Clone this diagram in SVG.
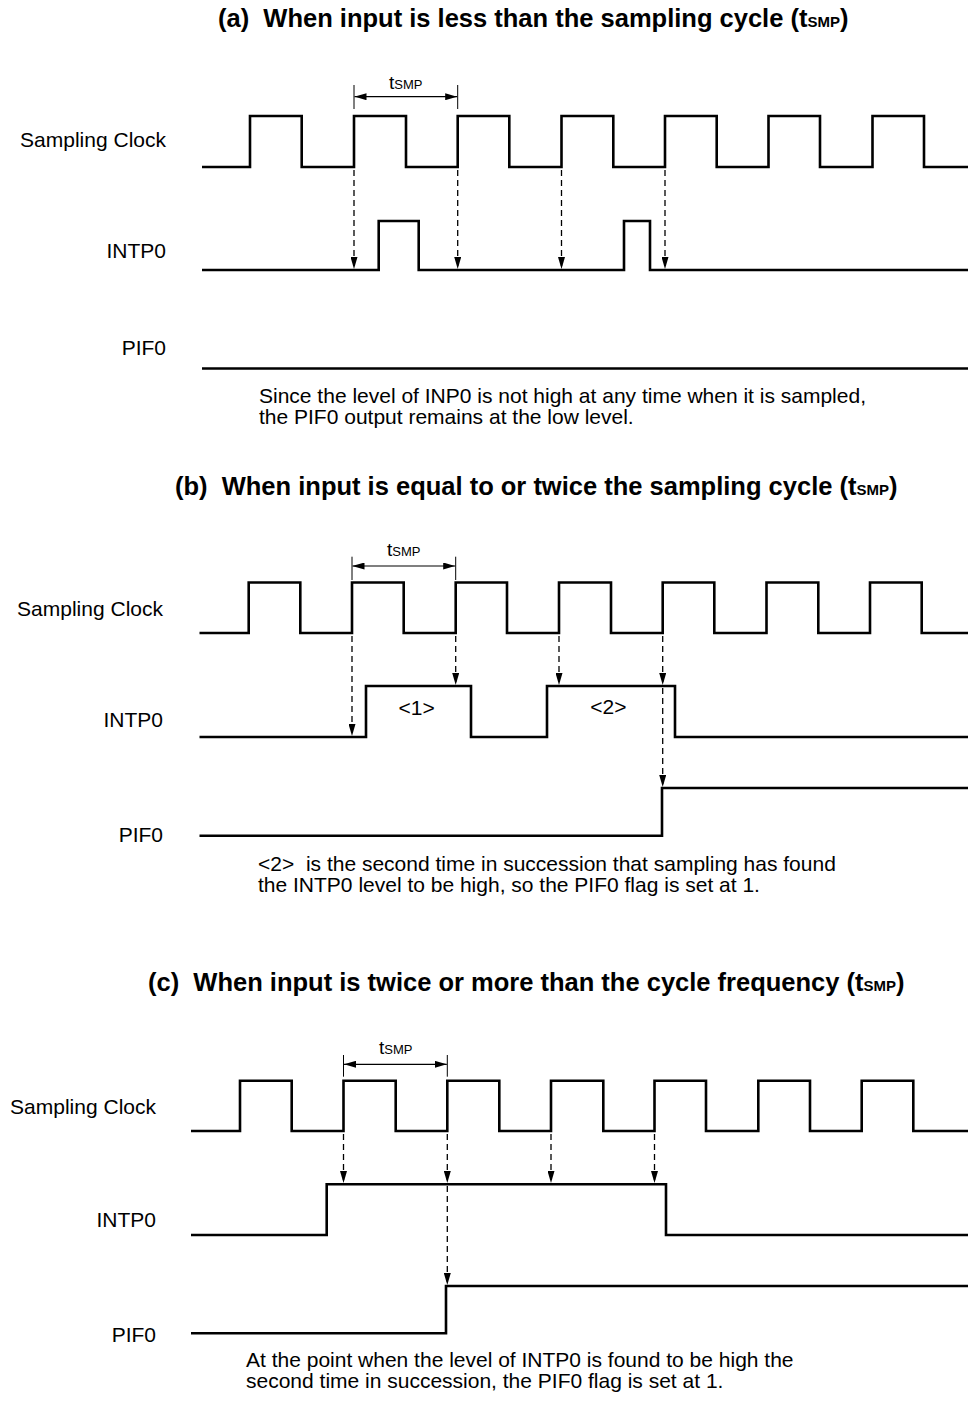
<svg xmlns="http://www.w3.org/2000/svg" width="968" height="1402" viewBox="0 0 968 1402">
<style>
text{white-space:pre}
.wave{fill:none;stroke:#000;stroke-width:2.6;stroke-linejoin:miter;stroke-linecap:butt}
.dash{fill:none;stroke:#000;stroke-width:1.3;stroke-dasharray:6 4}
.dim{fill:none;stroke:#000;stroke-width:1.2}
.tick{fill:none;stroke:#000;stroke-width:1}
.lbl{font-family:"Liberation Sans",Arial,sans-serif;font-size:21px;fill:#000}
.title{font-family:"Liberation Sans",Arial,sans-serif;font-size:25.5px;font-weight:bold;fill:#000}
.tt{font-family:"Liberation Sans",Arial,sans-serif;font-size:19px;fill:#000}
.sub{font-size:13px}
.tsub{font-size:15px}
</style>
<defs>
<marker id="ah" viewBox="0 0 12 7" refX="12" refY="3.5" markerWidth="12" markerHeight="7" markerUnits="userSpaceOnUse" orient="auto">
<path d="M0,0 L12,3.5 L0,7 z" fill="#000"/>
</marker>
<marker id="dh" viewBox="0 0 12 7" refX="12" refY="3.5" markerWidth="12" markerHeight="7" markerUnits="userSpaceOnUse" orient="auto-start-reverse">
<path d="M0,0 L12,3.5 L0,7 z" fill="#000"/>
</marker>
</defs>

<!-- Section (a) -->
<g id="section-a">
<text class="title" x="218" y="27">(a)  When input is less than the sampling cycle (t<tspan class="tsub">SMP</tspan>)</text>
<g id="a-clock">
<text class="lbl" x="166" y="147" text-anchor="end">Sampling Clock</text>
<path class="wave" d="M202,167 H250 V116 H301.7 V167 H354 V116 H406 V167 H457.7 V116 H509.3 V167 H561.5 V116 H613.3 V167 H665 V116 H716.7 V167 H768.5 V116 H820 V167 H872.5 V116 H924 V167 H968"/>
</g>
<g id="a-intp0">
<text class="lbl" x="166" y="258" text-anchor="end">INTP0</text>
<path class="wave" d="M202,270 H378.7 V221 H418.7 V270 H624 V221 H650 V270 H968"/>
</g>
<g id="a-pif0">
<text class="lbl" x="166" y="355" text-anchor="end">PIF0</text>
<path class="wave" d="M202,368.5 H968"/>
</g>
<g id="a-tsmp">
<line class="tick" x1="354" y1="85" x2="354" y2="109"/>
<line class="tick" x1="457.7" y1="85" x2="457.7" y2="109"/>
<line class="dim" x1="354.5" y1="96.7" x2="457.2" y2="96.7" marker-start="url(#dh)" marker-end="url(#dh)"/>
<text class="tt" x="389" y="89">t<tspan class="sub">SMP</tspan></text>
</g>
<g id="a-note">
<text class="lbl" x="259" y="403">Since the level of INP0 is not high at any time when it is sampled,</text>
<text class="lbl" x="259" y="424">the PIF0 output remains at the low level.</text>
</g>
</g>

<!-- Section (b) -->
<g id="section-b">
<text class="title" x="175" y="495">(b)  When input is equal to or twice the sampling cycle (t<tspan class="tsub">SMP</tspan>)</text>
<g id="b-clock">
<text class="lbl" x="163" y="615.5" text-anchor="end">Sampling Clock</text>
<path class="wave" d="M199.5,633 H248.7 V582.5 H300.3 V633 H352 V582.5 H403.7 V633 H455.7 V582.5 H507 V633 H559 V582.5 H611 V633 H662.7 V582.5 H714.3 V633 H766.5 V582.5 H818.3 V633 H870 V582.5 H921.7 V633 H968"/>
</g>
<g id="b-intp0">
<text class="lbl" x="163" y="726.5" text-anchor="end">INTP0</text>
<path class="wave" d="M199.5,737 H366 V686 H471 V737 H547 V686 H675 V737 H968"/>
<text class="lbl" x="416.7" y="715" text-anchor="middle">&lt;1&gt;</text>
<text class="lbl" x="608.3" y="714" text-anchor="middle">&lt;2&gt;</text>
</g>
<g id="b-pif0">
<text class="lbl" x="163" y="841.5" text-anchor="end">PIF0</text>
<path class="wave" d="M199.5,835.7 H662 V788 H968"/>
</g>
<g id="b-tsmp">
<line class="tick" x1="352" y1="556.7" x2="352" y2="580"/>
<line class="tick" x1="455.7" y1="556.7" x2="455.7" y2="580"/>
<line class="dim" x1="352.5" y1="566" x2="455.2" y2="566" marker-start="url(#dh)" marker-end="url(#dh)"/>
<text class="tt" x="387" y="556">t<tspan class="sub">SMP</tspan></text>
</g>
<g id="b-note">
<text class="lbl" x="258" y="871">&lt;2&gt;  is the second time in succession that sampling has found</text>
<text class="lbl" x="258" y="892">the INTP0 level to be high, so the PIF0 flag is set at 1.</text>
</g>
</g>

<!-- Section (c) -->
<g id="section-c">
<text class="title" x="148" y="991">(c)  When input is twice or more than the cycle frequency (t<tspan class="tsub">SMP</tspan>)</text>
<g id="c-clock">
<text class="lbl" x="156" y="1113.5" text-anchor="end">Sampling Clock</text>
<path class="wave" d="M191,1131 H240 V1080.7 H291.7 V1131 H343.5 V1080.7 H395.7 V1131 H447.3 V1080.7 H499.3 V1131 H551 V1080.7 H603.3 V1131 H654.5 V1080.7 H706 V1131 H758.3 V1080.7 H810 V1131 H861.7 V1080.7 H913.3 V1131 H968"/>
</g>
<g id="c-intp0">
<text class="lbl" x="156" y="1226.5" text-anchor="end">INTP0</text>
<path class="wave" d="M191,1235 H326.7 V1184.3 H666 V1235 H968"/>
</g>
<g id="c-pif0">
<text class="lbl" x="156" y="1341.5" text-anchor="end">PIF0</text>
<path class="wave" d="M191,1333.3 H446 V1286 H968"/>
</g>
<g id="c-tsmp">
<line class="tick" x1="343.5" y1="1055" x2="343.5" y2="1076.7"/>
<line class="tick" x1="447.3" y1="1055" x2="447.3" y2="1076.7"/>
<line class="dim" x1="344" y1="1064.3" x2="446.8" y2="1064.3" marker-start="url(#dh)" marker-end="url(#dh)"/>
<text class="tt" x="379" y="1054">t<tspan class="sub">SMP</tspan></text>
</g>
<g id="c-note">
<text class="lbl" x="246" y="1367">At the point when the level of INTP0 is found to be high the</text>
<text class="lbl" x="246" y="1388">second time in succession, the PIF0 flag is set at 1.</text>
</g>
</g>

<!-- Connectors -->
<g id="connectors">
<line class="dash" x1="354" y1="170" x2="354" y2="269" marker-end="url(#ah)"/>
<line class="dash" x1="457.7" y1="170" x2="457.7" y2="269" marker-end="url(#ah)"/>
<line class="dash" x1="561.5" y1="170" x2="561.5" y2="269" marker-end="url(#ah)"/>
<line class="dash" x1="665" y1="170" x2="665" y2="269" marker-end="url(#ah)"/>

<line class="dash" x1="352" y1="636" x2="352" y2="736" marker-end="url(#ah)"/>
<line class="dash" x1="455.7" y1="636" x2="455.7" y2="685" marker-end="url(#ah)"/>
<line class="dash" x1="559" y1="636" x2="559" y2="685" marker-end="url(#ah)"/>
<line class="dash" x1="662.7" y1="636" x2="662.7" y2="685" marker-end="url(#ah)"/>
<line class="dash" x1="662.7" y1="688" x2="662.7" y2="787" marker-end="url(#ah)"/>

<line class="dash" x1="343.5" y1="1134" x2="343.5" y2="1183" marker-end="url(#ah)"/>
<line class="dash" x1="447.3" y1="1134" x2="447.3" y2="1183" marker-end="url(#ah)"/>
<line class="dash" x1="447.3" y1="1186" x2="447.3" y2="1285" marker-end="url(#ah)"/>
<line class="dash" x1="551" y1="1134" x2="551" y2="1183" marker-end="url(#ah)"/>
<line class="dash" x1="654.5" y1="1134" x2="654.5" y2="1183" marker-end="url(#ah)"/>
</g>
</svg>
